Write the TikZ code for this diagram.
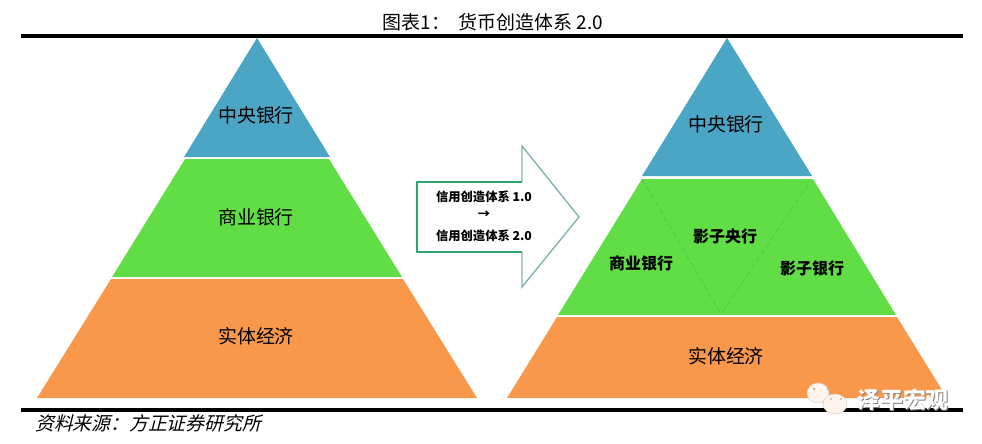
\documentclass[tikz,border=0pt]{standalone}
\usepackage{fontspec}
\usepackage{xcolor}
\setmainfont{Liberation Serif}
\newfontfamily\cjk{Noto Sans CJK SC}
\newfontfamily\cjkslant[FakeSlant=0.25]{Noto Sans CJK SC}
\definecolor{bankblue}{HTML}{4BA5C4}
\definecolor{bankgreen}{HTML}{61DD45}
\definecolor{econorange}{HTML}{F9974B}
\definecolor{arrowgreen}{HTML}{2FA56E}
\definecolor{arrowgrey}{HTML}{84B5A4}
\usetikzlibrary{calc}

\begin{document}
\begin{tikzpicture}[
    x=0.02cm, y=-0.02cm,
    rulebar/.style={line width=2.3pt, black},
    biglbl/.style={font=\cjk\fontsize{10.8}{12}\selectfont, inner sep=0pt},
    smalllbl/.style={font=\cjk\bfseries\fontsize{9.1}{10}\selectfont, inner sep=0pt},
    arrowlbl/.style={font=\cjk\bfseries\fontsize{7}{8}\selectfont, inner sep=0pt},
    eye/.style={fill=#1, draw=none}
]
    \useasboundingbox (0,0) rectangle (982,443);
    % title and rules
    \node[font=\cjk\fontsize{10.8}{12}\selectfont, inner sep=0pt] (title) at (493,22) {图表1：\ \ 货币创造体系 2.0};
    \coordinate (topl) at (21,36);
    \coordinate (topr) at (963,36);
    \coordinate (botl) at (21,410);
    \coordinate (botr) at (963,410);
    \draw[rulebar] (topl) -- (topr);
    % left pyramid
    \fill[bankblue] (257,38) -- (330,157) -- (184,157) -- cycle;
    \fill[bankgreen] (329,159) -- (402,277) -- (112,277) -- (185,159) -- cycle;
    \fill[econorange] (403,279) -- (477,398) -- (37,398) -- (111,279) -- cycle;
    \node[biglbl] (lcentral) at (256,115) {中央银行};
    \node[biglbl] (lcommercial) at (256,217) {商业银行};
    \node[biglbl] (lreal) at (256,336) {实体经济};
    % big arrow
    \draw[arrowgrey, line width=0.8pt, line join=miter] (522,182) -- (522,146) -- (579,217) -- (522,287) -- (522,252);
    \draw[arrowgreen, line width=0.9pt] (522,182) -- (417,182) -- (417,252) -- (522,252);
    \node[arrowlbl] (from) at (484,197) {信用创造体系 1.0};
    \node[arrowlbl] (to) at (484,215) {→};
    \node[arrowlbl] (dest) at (484,236) {信用创造体系 2.0};
    % right pyramid
    \fill[bankblue] (727,38) -- (812,176) -- (642,176) -- cycle;
    \fill[bankgreen] (813,179) -- (896,315) -- (558,315) -- (642,179) -- cycle;
    \fill[econorange] (897,317) -- (947,398) -- (507,398) -- (557,317) -- cycle;
    \draw[arrowgreen!45!bankgreen, densely dashed, line width=0.4pt] (642,179) -- (721,314) -- (808,185);
    \node[biglbl] (rcentral) at (726,124) {中央银行};
    \node[smalllbl] (rcommercial) at (641,263) {商业银行};
    \node[smalllbl] (rshadowcb) at (725,236) {影子央行};
    \node[smalllbl] (rshadow) at (812,268) {影子银行};
    \node[biglbl] (rreal) at (726,356) {实体经济};
    % source line
    \draw[rulebar] (botl) -- (botr);
    \node[font=\cjkslant\fontsize{10.7}{12}\selectfont, inner sep=0pt, anchor=west] (source) at (35,423) {资料来源：方正证券研究所};
    % watermark
    \fill[white!92!orange, draw=gray!35, line width=0.3pt] (818,393) ellipse (11 and 10);
    \fill[white!92!orange, draw=gray!35, line width=0.3pt] (835,404) ellipse (12 and 10);
    \fill[eye=brown!60] (814,389) circle (1.5) (828,389) circle (1.5);
    \fill[eye=gray!60] (831,399) circle (1) (841,399) circle (1);
    \node[font=\cjk\bfseries\fontsize{13}{15}\selectfont, inner sep=0pt, text=gray] (markshadow) at (904,401) {泽平宏观};
    \node[font=\cjk\bfseries\fontsize{13}{15}\selectfont, inner sep=0pt, text=white] (mark) at (903,400) {泽平宏观};
\end{tikzpicture}
\end{document}
